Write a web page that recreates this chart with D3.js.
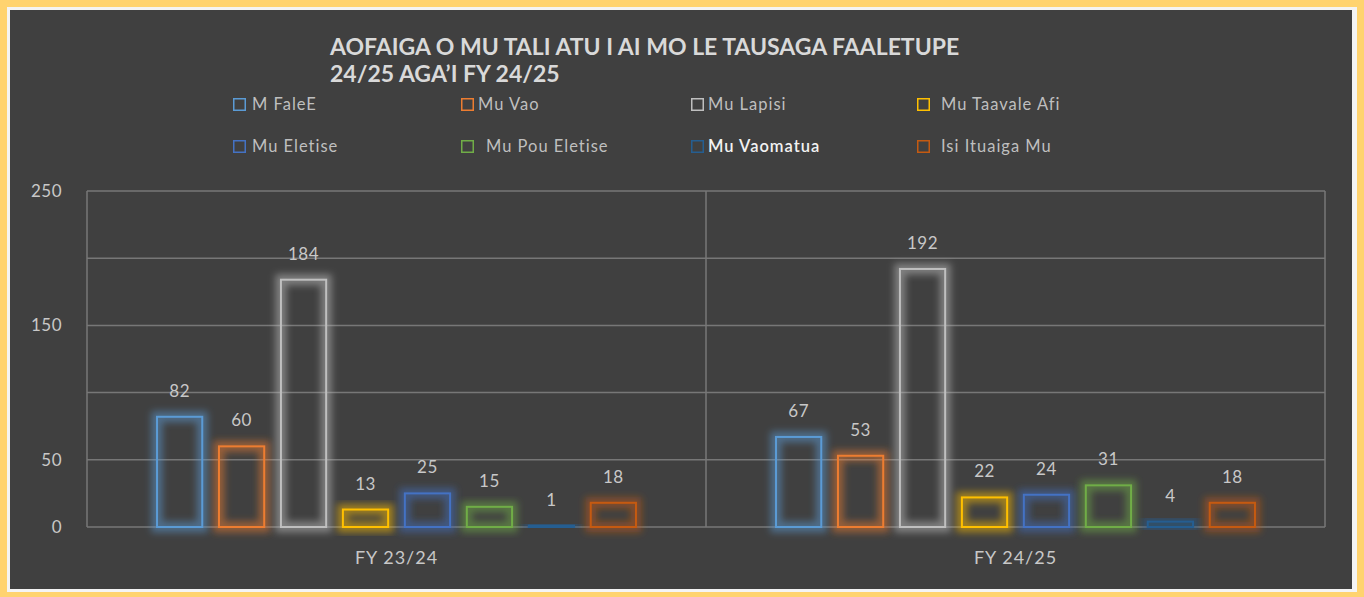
<!DOCTYPE html>
<html>
<head>
<meta charset="utf-8">
<script src="https://cdn.jsdelivr.net/npm/d3@7"></script>
<style>
  html, body { margin: 0; padding: 0; background: #FFD36F; }
  svg { display: block; }
  text { font-family: Lato, "Open Sans", sans-serif; }
</style>
</head>
<body>
<svg id="chart" width="1364" height="597"></svg>
<script>
const title = ["AOFAIGA O MU TALI ATU I AI MO LE TAUSAGA FAALETUPE", "24/25 AGA\u2019I FY 24/25"];
const categories = ["FY 23/24", "FY 24/25"];
const seriesNames = ["M FaleE", "Mu Vao", "Mu Lapisi", "Mu Taavale Afi", "Mu Eletise", "Mu Pou Eletise", "Mu Vaomatua", "Isi Ituaiga Mu"];
const seriesColors = ["#5B9BD5", "#ED7D31", "#BFBFBF", "#FFC000", "#4472C4", "#70AD47", "#255E91", "#C55A11"];
const valuesFY2324 = [82, 60, 184, 13, 25, 15, 1, 18];
const valuesFY2425 = [67, 53, 192, 22, 24, 31, 4, 18];
const yTickLabels = [0, 50, 150, 250];

const values = [valuesFY2324, valuesFY2425];

const svg = d3.select("#chart");

// frame
svg.append("rect").attr("x", 7).attr("y", 7).attr("width", 1350).attr("height", 585).attr("fill", "#f4f4f4");
svg.append("rect").attr("x", 10).attr("y", 10).attr("width", 1342).attr("height", 579).attr("fill", "#404040");

// glow filter
const defs = svg.append("defs");
const f = defs.append("filter").attr("id", "glow").attr("x", "-50%").attr("y", "-50%").attr("width", "200%").attr("height", "200%");
f.append("feGaussianBlur").attr("stdDeviation", 3.5);

const plot = { left: 87, right: 1325, top: 191, bottom: 527 };

const y = d3.scaleLinear().domain([0, 250]).range([plot.bottom, plot.top]);
const x0 = d3.scaleBand().domain(categories).range([plot.left, plot.right]).padding(0);
const x1 = d3.scaleBand().domain(seriesNames).range([0, x0.bandwidth()]).paddingInner(0.27).paddingOuter(1.13);

// gridlines
const gridColor = "#777777";
svg.append("g").selectAll("line").data(y.ticks(5)).join("line")
  .attr("x1", plot.left).attr("x2", plot.right)
  .attr("y1", d => y(d)).attr("y2", d => y(d))
  .attr("stroke", gridColor).attr("stroke-width", 1.5);
// vertical borders / divider
const vlines = [plot.left, ...categories.slice(1).map(c => x0(c)), plot.right];
svg.append("g").selectAll("line").data(vlines).join("line")
  .attr("x1", d => d).attr("x2", d => d)
  .attr("y1", plot.top).attr("y2", plot.bottom)
  .attr("stroke", gridColor).attr("stroke-width", 1.5);

// y axis labels
svg.append("g").selectAll("text").data(yTickLabels).join("text")
  .attr("x", 62).attr("y", d => y(d)).attr("dy", "0.35em")
  .attr("text-anchor", "end").attr("fill", "#c8c8c8")
  .attr("font-size", 17).attr("letter-spacing", 0.5)
  .text(d => d);

// bars
const groups = svg.append("g").selectAll("g").data(categories).join("g")
  .attr("transform", d => `translate(${x0(d)},0)`);

groups.each(function(cat, ci) {
  const g = d3.select(this);
  const data = seriesNames.map((s, i) => ({ s, i, v: values[ci][i] }));
  // glow
  g.selectAll("rect.glow").data(data).join("rect").attr("class", "glow")
    .attr("x", d => x1(d.s)).attr("width", x1.bandwidth())
    .attr("y", d => y(d.v)).attr("height", d => Math.max(1, y(0) - y(d.v)))
    .attr("fill", "none").attr("stroke", d => seriesColors[d.i])
    .attr("stroke-width", 11).attr("stroke-opacity", 0.5)
    .attr("filter", "url(#glow)");
  // crisp outline
  g.selectAll("rect.bar").data(data).join("rect").attr("class", "bar")
    .attr("x", d => x1(d.s)).attr("width", x1.bandwidth())
    .attr("y", d => y(d.v)).attr("height", d => Math.max(1, y(0) - y(d.v)))
    .attr("fill", "none").attr("stroke", d => seriesColors[d.i])
    .attr("stroke-width", 2);
  // value labels
  g.selectAll("text.val").data(data).join("text").attr("class", "val")
    .attr("x", d => x1(d.s) + x1.bandwidth() / 2)
    .attr("y", d => y(d.v) - 20)
    .attr("text-anchor", "middle").attr("fill", "#c8c8c8")
    .attr("font-size", 17).attr("letter-spacing", 0.5)
    .text(d => d.v);
});

// category labels
svg.append("g").selectAll("text").data(categories).join("text")
  .attr("x", d => x0(d) + x0.bandwidth() / 2).attr("y", 564)
  .attr("text-anchor", "middle").attr("fill", "#c8c8c8")
  .attr("font-size", 18).attr("letter-spacing", 1)
  .text(d => d);

// title
svg.append("g").selectAll("text").data(title).join("text")
  .attr("x", 330).attr("y", (d, i) => 55 + i * 27)
  .attr("fill", "#d9d9d9").attr("font-weight", "bold").attr("font-size", 23)
  .text(d => d);

// legend
const legendPos = [
  [233, 98], [461, 98], [691, 98], [917, 98],
  [233, 140], [461, 140], [691, 140], [917, 140]
];
const legendTextX = [252, 478, 708, 941, 252, 486, 708, 941];
const leg = svg.append("g").selectAll("g").data(seriesNames).join("g");
leg.append("rect")
  .attr("x", (d, i) => legendPos[i][0] + 0.75).attr("y", (d, i) => legendPos[i][1] + 0.75)
  .attr("width", 11.5).attr("height", 11.5)
  .attr("fill", "none").attr("stroke", (d, i) => seriesColors[i]).attr("stroke-width", 1.5);
leg.append("text")
  .attr("x", (d, i) => legendTextX[i]).attr("y", (d, i) => legendPos[i][1] + 6)
  .attr("dy", "0.35em")
  .attr("fill", (d, i) => i === 6 ? "#f2f2f2" : "#bfbfbf")
  .attr("font-weight", (d, i) => i === 6 ? 600 : 400)
  .attr("font-size", 16.5).attr("letter-spacing", 1)
  .text(d => d);
</script>
</body>
</html>
